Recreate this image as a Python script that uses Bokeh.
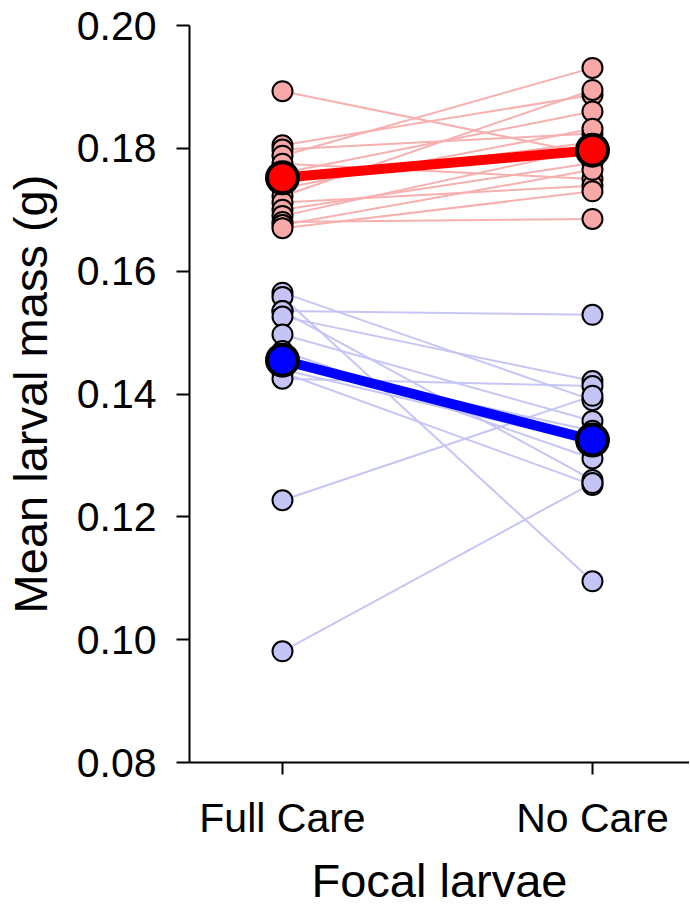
from bokeh.plotting import figure
from bokeh.models import Range1d, FixedTicker, NumeralTickFormatter, ColumnDataSource
from bokeh.embed import file_html
from bokeh.resources import INLINE

# ---- data ----
categories = ["Full Care", "No Care"]
y_ticks = [0.08, 0.10, 0.12, 0.14, 0.16, 0.18, 0.20]

# red group: paired replicate means (Full Care -> No Care)
red_full = [0.1893, 0.1805, 0.1798, 0.1788, 0.1775, 0.1760, 0.1745, 0.1735,
            0.1722, 0.1712, 0.1700, 0.1690, 0.1680, 0.1675, 0.1670]
red_none = [0.1790, 0.1887, 0.1824, 0.1931, 0.1750, 0.1860, 0.1810, 0.1832,
            0.1895, 0.1739, 0.1776, 0.1800, 0.1685, 0.1765, 0.1730]

# blue group
blue_full = [0.1565, 0.1558, 0.1535, 0.1535, 0.1526, 0.1497, 0.1470, 0.1450,
             0.1440, 0.1435, 0.1425, 0.1227, 0.0981]
blue_none = [0.1390, 0.1095, 0.1529, 0.1260, 0.1421, 0.1356, 0.1295, 0.1340,
             0.1320, 0.1252, 0.1413, 0.1397, 0.1255]

# group means
red_mean = [0.1752, 0.1797]
blue_mean = [0.1455, 0.1325]

cat_pos = list(range(len(categories)))

FONT = "Liberation Sans"

p = figure(frame_width=500, frame_height=737,
           x_range=Range1d(-0.3, 1.313), y_range=Range1d(0.08, 0.20),
           output_backend="svg", toolbar_location=None,
           min_border_left=180, min_border_right=0,
           min_border_top=25, min_border_bottom=146)

p.outline_line_color = None
p.xgrid.visible = False
p.ygrid.visible = False
p.background_fill_color = "white"
p.border_fill_color = "white"

def pairs_source(full, none):
    xs = [[cat_pos[0], cat_pos[1]] for _ in full]
    ys = [[a, b] for a, b in zip(full, none)]
    return ColumnDataSource(dict(xs=xs, ys=ys))

# thin replicate lines
p.multi_line("xs", "ys", source=pairs_source(red_full, red_none),
             line_color="#F7B0B0", line_width=2)
p.multi_line("xs", "ys", source=pairs_source(blue_full, blue_none),
             line_color="#C6C6F4", line_width=2)

# replicate points
for full, none, fill in [(red_full, red_none, "#F9A8A8"),
                         (blue_full, blue_none, "#C4C4F6")]:
    xs = [cat_pos[0]] * len(full) + [cat_pos[1]] * len(none)
    ys = list(full) + list(none)
    p.scatter(xs, ys, size=20, fill_color=fill, line_color="black", line_width=2)

# mean lines and points
p.line(cat_pos, red_mean, line_color="#FF0000", line_width=10)
p.line(cat_pos, blue_mean, line_color="#0000FF", line_width=10)
p.scatter(cat_pos, red_mean, size=31, fill_color="#FF0000", line_color="black", line_width=4)
p.scatter(cat_pos, blue_mean, size=31, fill_color="#0000FF", line_color="black", line_width=4)

# axes
p.yaxis.ticker = FixedTicker(ticks=y_ticks)
p.yaxis.formatter = NumeralTickFormatter(format="0.00")
p.xaxis.ticker = FixedTicker(ticks=cat_pos)
p.xaxis.major_label_overrides = {i: c for i, c in zip(cat_pos, categories)}

for ax in (p.xaxis, p.yaxis):
    ax.axis_line_width = 2
    ax.axis_line_color = "black"
    ax.major_tick_line_width = 2
    ax.major_tick_line_color = "black"
    ax.major_tick_in = 0
    ax.minor_tick_line_color = None
    ax.major_label_text_font = FONT
    ax.major_label_text_font_size = "41px"
    ax.major_label_text_color = "black"
    ax.axis_label_text_font = FONT
    ax.axis_label_text_font_size = "47px"
    ax.axis_label_text_font_style = "normal"
    ax.axis_label_text_color = "black"

p.yaxis.major_tick_out = 13
p.xaxis.major_tick_out = 12
p.yaxis.major_label_standoff = 20
p.xaxis.major_label_standoff = 20
p.yaxis.axis_label = "Mean larval mass (g)"
p.xaxis.axis_label = "Focal larvae"
p.yaxis.axis_label_standoff = 17
p.xaxis.axis_label_standoff = 10

open("out.html", "w").write(file_html(p, INLINE))
